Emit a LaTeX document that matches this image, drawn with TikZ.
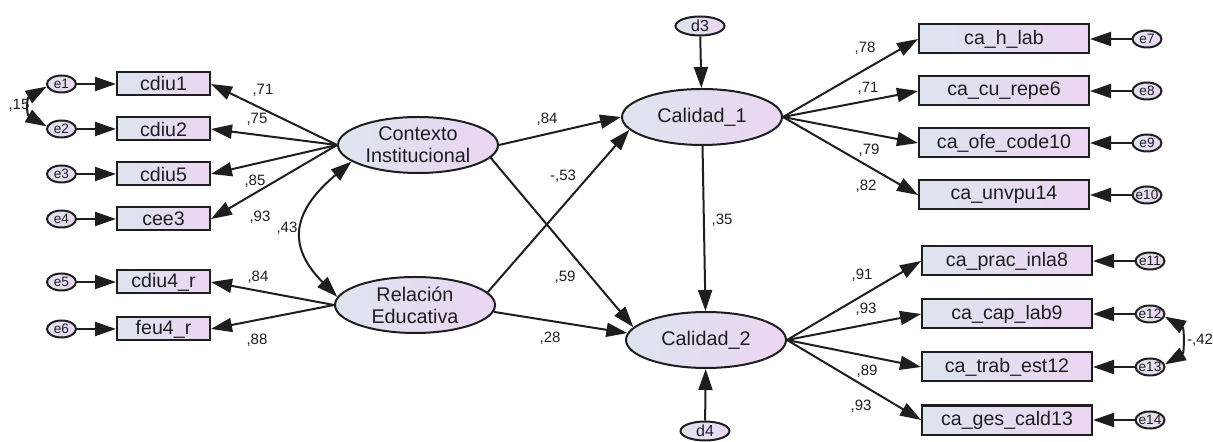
\documentclass[tikz,border=0pt]{standalone}
\usepackage{fontspec}
\setmainfont{Liberation Sans}
\usepackage{tikz}
\usetikzlibrary{shapes.geometric}
\usetikzlibrary{arrows.meta}
\definecolor{fillL}{RGB}{220,229,238}
\definecolor{fillR}{RGB}{236,213,243}
\definecolor{ink}{RGB}{30,30,30}
\newcommand{\ev}[1]{\makebox[0pt]{#1}}
\tikzset{
	latent/.style={ellipse,draw,left color=fillL,right color=fillR,minimum width=80pt,minimum height=28pt,
		inner sep=0pt,align=center,font=\fontsize{9.9}{11}\selectfont},
	item/.style={rectangle,draw,left color=fillL,right color=fillR,minimum width=46.5pt,minimum height=11.5pt,
		inner sep=0pt,font=\fontsize{9.8}{11}\selectfont},
	itemr/.style={item,minimum width=85pt,minimum height=14.5pt},
	err/.style={ellipse,draw,left color=fillL,right color=fillR,minimum width=14.5pt,minimum height=8.5pt,
		inner sep=0pt,font=\fontsize{6.8}{7}\selectfont},
	dist/.style={err,minimum width=24.5pt,minimum height=9.5pt,font=\fontsize{8}{8}\selectfont},
	coef/.style={inner sep=0pt,font=\fontsize{7.5}{8}\selectfont}
}

\begin{document}
\begin{tikzpicture}[->,>={Triangle[length=10.5pt,width=7pt]},x=0.5pt,y=-0.5pt,line width=1pt,color=ink,node distance=22.5pt]
		\useasboundingbox (0,0) rectangle (1213,442);

		% latent variables
		\node[latent] (ci) at (418,145) {Contexto\\Institucional};
		\node[latent] (re) at (415,305) {Relación\\Educativa};
		\node[latent] (c1) at (702,117) {Calidad\_1};
		\node[latent] (c2) at (706,340) {Calidad\_2};
		\node[dist]   (d3) at (700,26)  {\ev{d3}};
		\node[dist]   (d4) at (705,431) {\ev{d4}};

		% left indicators
		\node[item] (x1) at (163.5,84)                 {cdiu1};
		\node[item] (x2) [below of=x1]                  {cdiu2};
		\node[item] (x3) [below of=x2]                  {cdiu5};
		\node[item] (x4) [below of=x3]                  {cee3};
		\node[item] (x5) at (163.5,282)                 {cdiu4\_r};
		\node[item] (x6) [below of=x5,node distance=23.5pt] {feu4\_r};

		\node[err] (e1) [left of=x1,node distance=51pt] {\ev{e1}};
		\node[err] (e2) [left of=x2,node distance=51pt] {\ev{e2}};
		\node[err] (e3) [left of=x3,node distance=51pt] {\ev{e3}};
		\node[err] (e4) [left of=x4,node distance=51pt] {\ev{e4}};
		\node[err] (e5) [left of=x5,node distance=51pt] {\ev{e5}};
		\node[err] (e6) [left of=x6,node distance=51pt] {\ev{e6}};

		% right indicators
		\node[itemr] (y1) at (1004,39)                   {ca\_h\_lab};
		\node[itemr] (y2) [below of=y1,node distance=26pt] {ca\_cu\_repe6};
		\node[itemr] (y3) [below of=y2,node distance=26pt] {ca\_ofe\_code10};
		\node[itemr] (y4) [below of=y3,node distance=26pt] {ca\_unvpu14};
		\node[itemr] (y5) at (1007,261)                  {ca\_prac\_inla8};
		\node[itemr] (y6) [below of=y5,node distance=26.5pt] {ca\_cap\_lab9};
		\node[itemr] (y7) [below of=y6,node distance=26.5pt] {ca\_trab\_est12};
		\node[itemr] (y8) [below of=y7,node distance=26.5pt] {ca\_ges\_cald13};

		\node[err] (e7)  [right of=y1,node distance=71.5pt] {\ev{e7}};
		\node[err] (e8)  [right of=y2,node distance=71.5pt] {\ev{e8}};
		\node[err] (e9)  [right of=y3,node distance=71.5pt] {\ev{e9}};
		\node[err] (e10) [right of=y4,node distance=71.5pt] {\ev{e10}};
		\node[err] (e11) [right of=y5,node distance=71.5pt] {\ev{e11}};
		\node[err] (e12) [right of=y6,node distance=71.5pt] {\ev{e12}};
		\node[err] (e13) [right of=y7,node distance=71.5pt] {\ev{e13}};
		\node[err] (e14) [right of=y8,node distance=71.5pt] {\ev{e14}};

		% coefficients
		\node[coef] (k1)  at (19,105)   {,15};
		\node[coef] (k2)  at (263,90)   {,71};
		\node[coef] (k3)  at (257,119)  {,75};
		\node[coef] (k4)  at (255,181)  {,85};
		\node[coef] (k5)  at (260,217)  {,93};
		\node[coef] (k6)  at (287,228)  {,43};
		\node[coef] (k7)  at (258,277)  {,84};
		\node[coef] (k8)  at (257,340)  {,88};
		\node[coef] (k9)  at (547,119)  {,84};
		\node[coef] (k10) at (563,176)  {-,53};
		\node[coef] (k11) at (565,277)  {,59};
		\node[coef] (k12) at (550,338)  {,28};
		\node[coef] (k13) at (722,220)  {,35};
		\node[coef] (k14) at (865,48)   {,78};
		\node[coef] (k15) at (868,88)   {,71};
		\node[coef] (k16) at (869,150)  {,79};
		\node[coef] (k17) at (866,186)  {,82};
		\node[coef] (k18) at (862,275)  {,91};
		\node[coef] (k19) at (866,309)  {,93};
		\node[coef] (k20) at (867,371)  {,89};
		\node[coef] (k21) at (861,406)  {,93};
		\node[coef] (k22) at (1200,340) {-,42};

		\path
			(e1) edge (x1)
			(e2) edge (x2)
			(e3) edge (x3)
			(e4) edge (x4)
			(e5) edge (x5)
			(e6) edge (x6)
			(ci.west) edge (x1.east)
			(ci.west) edge (x2.east)
			(ci.west) edge (x3.east)
			(ci.west) edge (x4.east)
			(re.west) edge (x5.east)
			(re.west) edge (x6.east)
			(c1.east) edge (y1.west)
			(c1.east) edge (y2.west)
			(c1.east) edge (y3.west)
			(c1.east) edge (y4.west)
			(c2.east) edge (y5.west)
			(c2.east) edge (y6.west)
			(c2.east) edge (y7.west)
			(c2.east) edge (y8.west)
			(e7) edge (y1)
			(e8) edge (y2)
			(e9) edge (y3)
			(e10) edge (y4)
			(e11) edge (y5)
			(e12) edge (y6)
			(e13) edge (y7)
			(e14) edge (y8)
			(d3) edge (c1)
			(d4) edge (c2)
			(ci.east) edge (c1.west)
			(ci.-10) edge (c2.170)
			(re.10) edge (c1.190)
			(re.-5) edge (c2.175)
			(c1) edge (c2)
			(e1.190) edge [<->,out=210,in=150,looseness=1.5] (e2.170)
			(e12.-10) edge [<->,out=-30,in=30,looseness=1.2] (e13.10)
			(ci.194) edge [<->,out=220,in=135,looseness=1.4] (re.174);
\end{tikzpicture}
\end{document}
